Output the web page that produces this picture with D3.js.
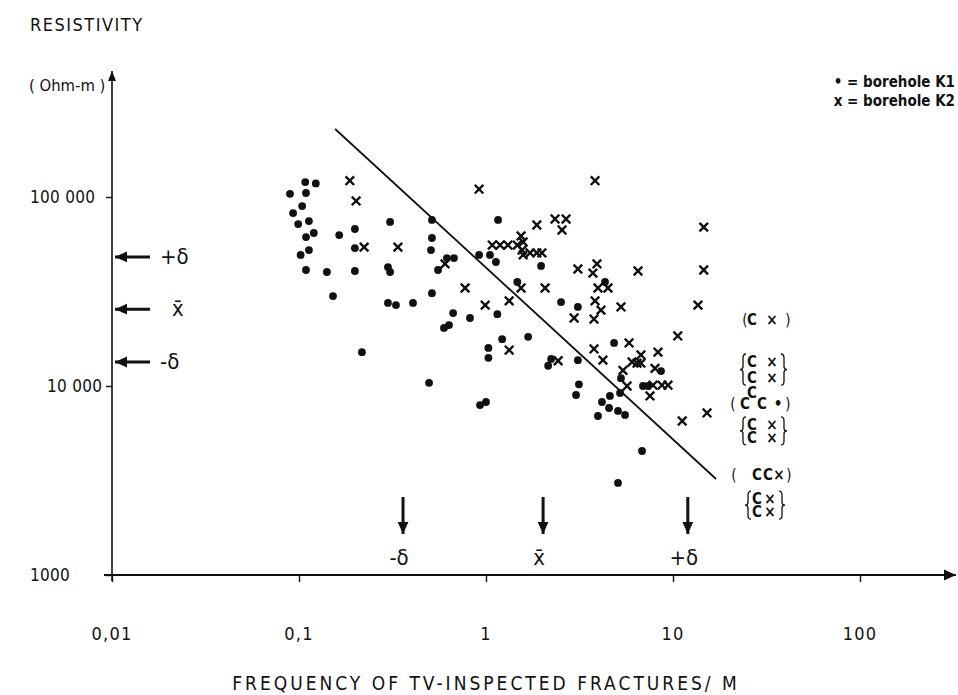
<!DOCTYPE html>
<html>
<head>
<meta charset="utf-8">
<script src="https://cdn.jsdelivr.net/npm/d3@7"></script>
<style>
  body { margin: 0; background: #fff; }
  svg { display: block; }
  text { font-family: "DejaVu Sans Condensed", "DejaVu Sans", sans-serif; fill: #111; }
</style>
</head>
<body>
<svg id="chart" width="958" height="695"></svg>
<script>
// Borehole K1: [fracture frequency (1/m), resistivity (Ohm-m)]
const boreholeK1 = [
  [0.108,120000],[0.123,118000],[0.0895,104000],[0.109,105000],[0.104,89500],[0.093,82200],
  [0.099,71900],[0.113,74600],[0.120,64500],[0.109,61400],[0.164,62900],[0.199,67700],
  [0.307,73800],[0.514,75600],[0.514,60700],[0.508,52400],[0.113,52400],[0.102,49400],
  [0.199,53700],[0.109,41100],[0.141,40100],[0.199,40600],[0.299,42600],[0.307,40100],
  [0.554,41100],[0.618,47500],[0.674,47500],[0.918,49400],[1.05,49400],[0.152,29900],
  [0.514,31000],[0.299,27500],[0.330,26800],[0.407,27500],[0.667,24300],[0.821,22900],
  [0.596,20300],[0.634,21000],[0.217,15100],[0.496,10400],[0.929,7930],[1.0,8230],
  [1.03,15900],[1.03,14100],[1.16,75600],[1.13,45300],[1.97,43200],[1.47,35500],
  [4.33,35500],[1.15,24000],[2.52,27800],[3.10,26200],[1.22,17700],[1.68,18200],
  [2.23,13900],[2.15,12800],[3.10,13700],[4.84,16900],[8.63,12000],[5.27,11000],
  [6.91,10000],[7.35,10000],[3.14,10200],[3.03,8960],[5.21,9180],[4.60,8860],
  [4.17,8230],[4.55,7650],[5.08,7380],[5.54,7030],[3.97,6940],[6.83,4530],[5.08,3070]
];

// Borehole K2: [fracture frequency (1/m), resistivity (Ohm-m)]
const boreholeK2 = [
  [0.187,122000],[0.202,95300],[0.223,54300],[0.338,54300],[0.918,110000],[0.604,44300],
  [0.773,33000],[0.99,26800],[3.83,122000],[14.6,69300],[1.87,71100],[2.34,76500],
  [2.68,76500],[2.55,66900],[1.54,62200],[1.08,55700],[1.19,55700],[1.31,55700],
  [1.47,55700],[1.58,57800],[1.56,52400],[1.72,50600],[1.87,50600],[1.99,50600],
  [1.58,49400],[3.10,41600],[3.92,44300],[3.73,39600],[6.50,40600],[14.6,41100],
  [1.54,33000],[2.07,33000],[3.97,33000],[4.49,33000],[1.33,28200],[3.83,28200],
  [4.12,25200],[2.96,22900],[3.78,22600],[5.27,26200],[13.6,26800],[1.33,15500],
  [2.43,13600],[3.78,15700],[4.22,13700],[5.82,16900],[10.6,18400],[6.74,14600],
  [6.42,13200],[6.74,13200],[6.04,13400],[5.40,12100],[8.31,15100],[8.01,12400],
  [5.68,10000],[7.82,10100],[8.73,10100],[9.40,10100],[7.53,8860],[11.2,6530],[15.2,7200]
];

// Trend line end points [frequency, resistivity]
const trendLine = [[0.156,229000],[17.0,3220]];

// Axis ticks
const xTicks = [0.01, 0.1, 1, 10, 100];
const xTickLabels = ["0,01", "0,1", "1", "10", "100"];
const yTicks = [1000, 10000, 100000];
const yTickLabels = ["1000", "10 000", "100 000"];

// Mean and ± one standard deviation on each axis
const resistivityStats = [["+δ", 48200], ["x̄", 25500], ["-δ", 13400]];
const frequencyStats = [["-δ", 0.36], ["x̄", 2.02], ["+δ", 12.0]];

// Resistivity levels of the bracketed notes right of the plot
const noteSingle = [22300, 8030, 3380];
const noteRaised = 9180;
const notePairs = [[13400, 11000], [6220, 5310], [2520, 2150]];

const svg = d3.select("#chart");
const x = d3.scaleLog().domain([0.01, 100]).range([112, 860]);
const y = d3.scaleLog().domain([1000, 100000]).range([575, 197]);

const defs = svg.append("defs");
defs.append("marker").attr("id", "ah").attr("viewBox", "0 0 10 10")
  .attr("refX", 10).attr("refY", 5).attr("markerWidth", 10).attr("markerHeight", 10)
  .attr("markerUnits", "userSpaceOnUse").attr("orient", "auto")
  .append("path").attr("d", "M0,1 L10,5 L0,9 Z").attr("fill", "#111");
defs.append("marker").attr("id", "ahBig").attr("viewBox", "0 0 10 10")
  .attr("refX", 10).attr("refY", 5).attr("markerWidth", 18).attr("markerHeight", 12)
  .attr("markerUnits", "userSpaceOnUse").attr("orient", "auto")
  .append("path").attr("d", "M0,0.5 L10,5 L0,9.5 Z").attr("fill", "#111");

// Axes
const xAxis = d3.axisBottom(x).tickValues(xTicks).tickSize(7).tickFormat("");
const gx = svg.append("g").attr("transform", `translate(0,${y(1000)})`).call(xAxis);
gx.select(".domain").remove();
gx.selectAll("line").attr("stroke", "#111").attr("stroke-width", 1.4);

const yAxis = d3.axisLeft(y).tickValues(yTicks).tickSize(6).tickFormat("");
const gy = svg.append("g").attr("transform", `translate(${x(0.01)},0)`).call(yAxis);
gy.select(".domain").remove();
gy.selectAll("line").attr("stroke", "#111").attr("stroke-width", 1.4);

svg.append("line").attr("x1", x(0.01) - 8).attr("y1", y(1000))
  .attr("x2", 956).attr("y2", y(1000))
  .attr("stroke", "#111").attr("stroke-width", 2).attr("marker-end", "url(#ahBig)");
svg.append("line").attr("x1", x(0.01)).attr("y1", y(1000) + 6)
  .attr("x2", x(0.01)).attr("y2", 71)
  .attr("stroke", "#111").attr("stroke-width", 1.6).attr("marker-end", "url(#ah)");

// Tick labels
svg.selectAll(".xl").data(xTicks).join("text")
  .attr("x", d => x(d)).attr("y", 640).attr("text-anchor", "middle")
  .attr("font-size", 18).attr("letter-spacing", 1.2).text((d, i) => xTickLabels[i]);
const yLabelX = [30, 47, 30];
svg.selectAll(".yl").data(yTicks).join("text")
  .attr("x", (d, i) => yLabelX[i]).attr("y", d => y(d) + 6)
  .attr("font-size", 17).attr("letter-spacing", 0.3).text((d, i) => yTickLabels[i]);

// Titles
svg.append("text").attr("x", 30).attr("y", 31).attr("font-size", 18)
  .attr("letter-spacing", 1.5).text("RESISTIVITY");
svg.append("text").attr("x", 29).attr("y", 91).attr("font-size", 16.5).text("( Ohm-m )");
svg.append("text").attr("x", 486).attr("y", 690).attr("text-anchor", "middle")
  .attr("font-size", 19).attr("letter-spacing", 3.0)
  .text("FREQUENCY  OF  TV-INSPECTED  FRACTURES/ M");

// Legend
svg.append("text").attr("x", 955).attr("y", 87).attr("text-anchor", "end")
  .attr("font-size", 15).attr("font-weight", "bold").text("• = borehole  K1");
svg.append("text").attr("x", 955).attr("y", 106).attr("text-anchor", "end")
  .attr("font-size", 15).attr("font-weight", "bold").text("x = borehole  K2");

// Trend line
svg.append("line")
  .attr("x1", x(trendLine[0][0])).attr("y1", y(trendLine[0][1]))
  .attr("x2", x(trendLine[1][0])).attr("y2", y(trendLine[1][1]))
  .attr("stroke", "#111").attr("stroke-width", 1.8);

// K1 points
svg.append("g").selectAll("circle").data(boreholeK1).join("circle")
  .attr("cx", d => x(d[0])).attr("cy", d => y(d[1])).attr("r", 3.9).attr("fill", "#111");

// K2 points
const cs = 4.3;
svg.append("g").selectAll("path").data(boreholeK2).join("path")
  .attr("d", d => {
    const cx = x(d[0]), cy = y(d[1]);
    return `M${cx - cs},${cy - cs}L${cx + cs},${cy + cs}M${cx - cs},${cy + cs}L${cx + cs},${cy - cs}`;
  })
  .attr("stroke", "#111").attr("stroke-width", 2.4).attr("fill", "none");

// Statistics markers on the resistivity axis
const rs = svg.append("g");
resistivityStats.forEach(([lab, v]) => {
  rs.append("line").attr("x1", 150).attr("y1", y(v)).attr("x2", 115).attr("y2", y(v))
    .attr("stroke", "#111").attr("stroke-width", 3).attr("marker-end", "url(#ahBig)");
  rs.append("text").attr("x", lab === "x̄" ? 172 : 160).attr("y", y(v) + 7)
    .attr("font-size", 22).text(lab);
});

// Statistics markers on the frequency axis
const fs = svg.append("g");
frequencyStats.forEach(([lab, v]) => {
  fs.append("line").attr("x1", x(v)).attr("y1", 497).attr("x2", x(v)).attr("y2", 534)
    .attr("stroke", "#111").attr("stroke-width", 3).attr("marker-end", "url(#ahBig)");
  fs.append("text").attr("x", x(v) - 4).attr("y", 565).attr("text-anchor", "middle")
    .attr("font-size", 22).text(lab);
});

// Bracketed notes
const notes = svg.append("g");
function glyph(gx, v, ch, opts = {}) {
  notes.append("text").attr("x", gx).attr("y", y(v) + (opts.dy ?? 5))
    .attr("text-anchor", "middle")
    .attr("font-size", opts.size ?? 15)
    .attr("font-weight", opts.bold === false ? 300 : "bold")
    .text(ch);
}
function paren(gx, v, ch) { glyph(gx, v, ch, { size: 15, bold: false }); }
// curly bracket spanning two rows; dir = 1 opens right, -1 opens left
function brace(bx, top, bot, dir) {
  const mid = (top + bot) / 2, w = 3 * dir;
  const d = `M${bx + w},${top} Q${bx},${top} ${bx},${top + 4} L${bx},${mid - 3}` +
            ` Q${bx},${mid} ${bx - w},${mid} Q${bx},${mid} ${bx},${mid + 3}` +
            ` L${bx},${bot - 4} Q${bx},${bot} ${bx + w},${bot}`;
  notes.append("path").attr("d", d).attr("fill", "none")
    .attr("stroke", "#111").attr("stroke-width", 1.3);
}

// single rows
paren(745, noteSingle[0], "("); glyph(752, noteSingle[0], "C"); glyph(772, noteSingle[0], "×"); paren(788, noteSingle[0], ")");
paren(733, noteSingle[1], "("); glyph(745, noteSingle[1], "C"); glyph(762, noteSingle[1], "C");
glyph(778, noteSingle[1], "•"); paren(788, noteSingle[1], ")");
glyph(752, noteRaised, "C");
paren(734, noteSingle[2], "("); glyph(757, noteSingle[2], "C"); glyph(768, noteSingle[2], "C");
glyph(779, noteSingle[2], "×"); paren(789, noteSingle[2], ")");

// paired rows
const pairX = [[743, 752, 772, 784], [743, 752, 772, 784], [748, 757, 770, 782]];
notePairs.forEach(([a, b], i) => {
  const [bl, cx, xx, br] = pairX[i];
  [a, b].forEach(v => { glyph(cx, v, "C"); glyph(xx, v, "×"); });
  brace(bl, y(a) - 8, y(b) + 7, 1);
  brace(br, y(a) - 8, y(b) + 7, -1);
});
</script>
</body>
</html>
